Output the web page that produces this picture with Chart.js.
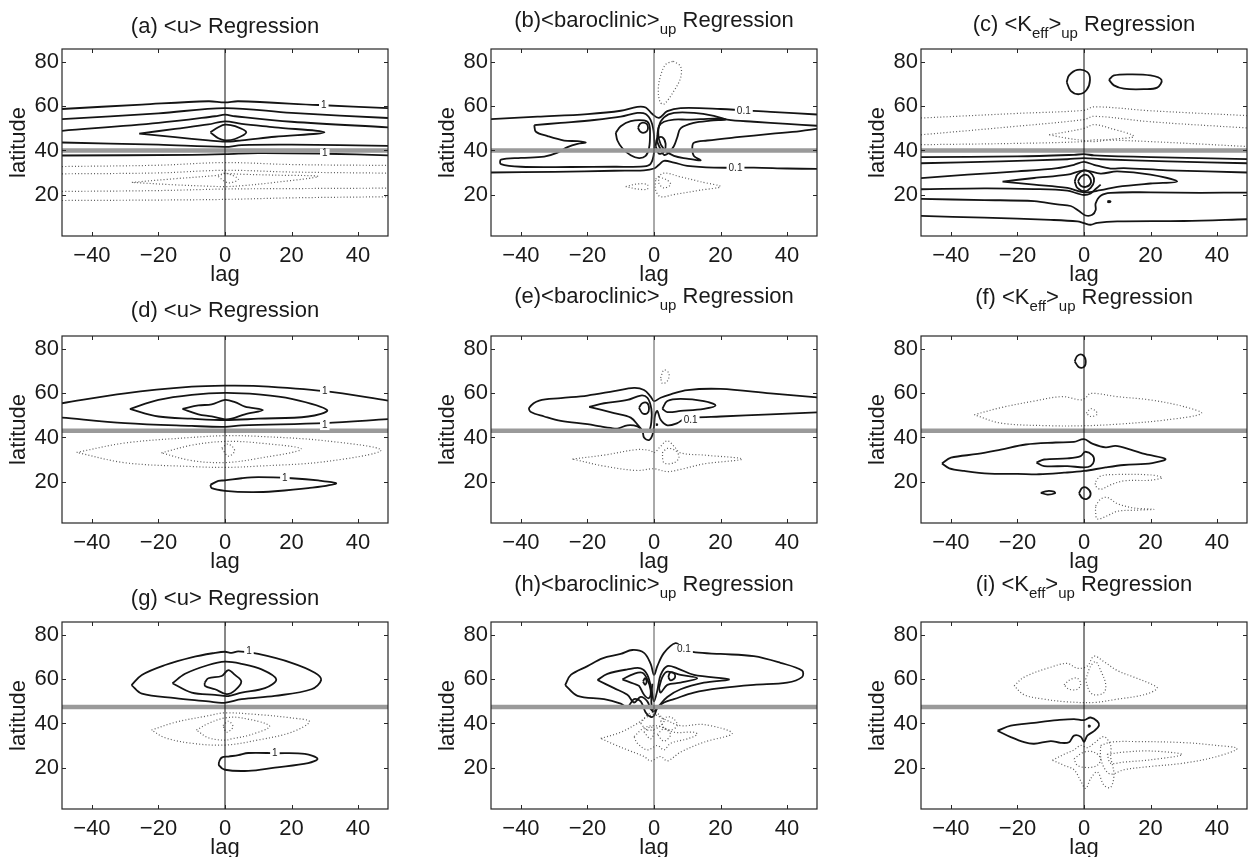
<!DOCTYPE html>
<html>
<head>
<meta charset="utf-8">
<script src="https://cdn.jsdelivr.net/npm/chart.js@4.4.1/dist/chart.umd.min.js"></script>
<style>
html, body { margin: 0; padding: 0; background: #fff; overflow: hidden; width: 1250px; height: 857px; }
canvas { position: absolute; }
</style>
</head>
<body>
<script>
// axes
const lagTicks = [-40, -20, 0, 20, 40];
const latTicks = [20, 40, 60, 80];
const lagRange = [-49, 49];
const latRange = [1.2, 86];
// reference latitude (grey line) for each panel
const refLat = [40, 40, 40, 43, 43, 43, 47.5, 47.5, 47.5];

// contours: each one a list of [lag, latitude]; Pos = solid, Neg = dotted
const aPos = [
  [[-49,58.8],[-25,60.8],[-5,62.3],[0,61.8],[4,62.3],[28,60.6],[49,59.2]],
  [[-49,54.2],[-20,56.8],[0,59.2],[20,57],[49,54.7]],
  [[-49,48.9],[-20,52.5],[-3,55.5],[0,56.2],[3,55.5],[20,53],[49,50.5]],
  [[-25.8,47.6],[-15,49.8],[-5,51.8],[0,53.2],[5,52],[15,50.5],[29.9,48.2],[15,46.2],[5,44.6],[0,44],[-5,44.6],[-15,46],[-25.8,47.6]],
  [[-4.4,48.2],[-2,50.5],[0,51.7],[3,51],[6.4,48.2],[3,45.2],[0,44.6],[-2,45.5],[-4.4,48.2]],
  [[-49,43.6],[-20,42.6],[0,41.6],[5,42.4],[20,42.6],[49,42.1]],
  [[-49,37.7],[-10,38],[0,38.3],[10,38.8],[30,38.5],[49,37.8]]
];
const aNeg = [
  [[-49,32.7],[-20,33.3],[0,34.5],[20,33.6],[49,33.2]],
  [[-49,29.4],[-20,29.8],[0,31],[20,30.2],[49,29.7]],
  [[-28,25.5],[-15,27.2],[-3,28.6],[0,29.5],[5,29.2],[15,28.8],[28,28.2],[15,25.5],[5,24],[0,23.6],[-5,23.8],[-15,24.4],[-28,25.5]],
  [[-2,28],[0,29.7],[4,27],[1,25.3],[-2,28]],
  [[-49,21.4],[-20,21.8],[0,22.5],[20,22.7],[49,22.9]],
  [[-49,17.3],[-20,17.5],[0,17.8],[20,18.5],[49,19]]
];
const aLabels = [[29.7, 60.6, '1'], [30, 38.5, '1']];

const bPos = [
  [[-49,54.2],[-35,55.3],[-20,56.5],[-10,58],[-5,59.8],[-2.5,59.5],[-0.5,56.5],[1.5,54.8],[4,57.8],[8,59.2],[20,58.8],[35,57.5],[49,56.3]],
  [[-36,51.5],[-28,52.5],[-18,53.8],[-10,55.3],[-5,57],[-2.5,56.5],[-0.8,53],[0,47],[0,39],[-1,34],[-3,32.8],[-12,32.6],[-25,32.5],[-40,32.6],[-46,33.8],[-46,35.8],[-40,36.6],[-33,37.2],[-29,39],[-26,41.5],[-23,43],[-20.5,43.6],[-23,44.2],[-27,44.5],[-32,46.5],[-35.5,48.5],[-36,51.5]],
  [[-49,30],[-30,30.3],[-12,30.8],[-3,31],[0,31.8],[1.5,33.5],[3,35.3],[6,34.5],[10,33],[18,32.2],[30,32.2],[40,31.8],[49,31.6]],
  [[-11.5,48],[-10,51],[-7,53.3],[-3,53.6],[-1.5,52],[-1.2,47],[-1.5,41],[-2.5,37.5],[-4.5,36.5],[-7,37.8],[-9.5,41],[-11,44.5],[-11.5,48]],
  [[-4.8,50.3],[-4.2,52],[-3.3,52.6],[-2.2,52],[-1.8,50.3],[-2.2,48.6],[-3.3,48],[-4.2,48.6],[-4.8,50.3]],
  [[49,51.2],[40,52],[30,53],[22,54],[18,55.7],[12,57],[6,57],[3,55],[1.5,51],[1.5,45],[3,40.5],[6,37.5],[10,36.3],[14,35.5],[12,37.5],[11.5,41],[12,43.5],[16,44.5],[25,46],[35,47.5],[44,48.8],[49,49.8]],
  [[1,47],[1.5,51],[3,53],[6,54],[10,54],[14,54.2],[20,54.5],[21.5,54],[17,53.5],[12,52.5],[8,50],[7,46],[6,42],[4.5,39],[3,38],[2,40.5],[1,44],[1,47]],
  [[0.5,42],[1,45.5],[2.5,46],[3.5,43],[3,39.5],[1.5,38.5],[0.5,42]]
];
const bNeg = [
  [[5.8,80.5],[8,78],[8,73],[6,67],[3,61],[1.8,62],[1.3,68],[2,74],[3.5,79],[5.8,80.5]],
  [[0.5,27],[3,29.7],[8,28],[14,25.8],[20,23.6],[14,22],[6,20],[2,19],[0.5,22],[0.5,27]],
  [[1.5,28],[4,26.5],[5,24.5],[3,23],[1.5,25],[1.5,28]],
  [[-8.5,23.6],[-5,24.8],[-2,24.5],[-2,22.5],[-5,22.5],[-8.5,23.6]]
];
const bLabels = [[27, 57.8, '0.1'], [24.5, 32, '0.1']];

const cPos = [
  [[-5.2,71],[-4.5,74],[-2,76.5],[1,75.5],[1.8,72],[0.8,67.5],[-1.5,65.5],[-4,67],[-5.2,71]],
  [[7.5,72],[9,74],[14,74.5],[20,74],[23.3,72],[22,68.5],[18,67.8],[12,68],[9,69.5],[7.5,72]],
  [[-49,37],[-20,37.3],[-3,38],[0,38.3],[3,37.8],[20,37],[49,36.1]],
  [[-49,34.2],[-25,35],[-5,36],[0,36.5],[5,36],[25,35],[49,34.2]],
  [[-49,27.4],[-35,29],[-20,30.5],[-8,32],[-3,33.5],[0,34.8],[3,33.5],[8,31.8],[12,32],[25,31],[49,30]],
  [[-24.5,25.9],[-15,27.5],[-5,29],[0,31],[5,29.5],[10,30.5],[20,29],[28,25.9],[20,25],[10,23.5],[5,22],[0,21],[-5,23],[-15,24.5],[-24.5,25.9]],
  [[-2.8,26],[-2,29],[0.3,31],[2.5,29],[3,26],[2,23],[0.3,21.5],[-2,23],[-2.8,26]],
  [[-1.8,26],[-1,28],[0.5,29],[1.8,27.5],[2,25],[0.5,23.5],[-1,24],[-1.8,26]],
  [[-49,22.4],[-30,22.8],[-15,22.5],[-5,21.8],[-2,20.5],[0,19.8],[2,20.5],[3.5,22.5],[5,24.5]],
  [[-49,18],[-30,17.5],[-15,17],[-8,15.5],[-4,14.8],[-1.5,12.5],[0.5,10.5],[2.5,10.8],[3.5,13],[3.5,16],[5,19.5],[8,20.8],[20,21],[35,20.8],[49,20.9]],
  [[-49,10.3],[-30,9.5],[-10,8.5],[-2,7.8],[0,7],[2,6.3],[4,7.2],[10,7.8],[30,8],[49,8.8]],
  [[7,16.8],[7.5,17.1],[8,16.8],[7.5,16.5],[7,16.8]]
];
const cNeg = [
  [[-49,54.7],[-20,56.8],[0,58.2],[3,59.8],[20,58],[49,55.8]],
  [[-49,47.1],[-20,51],[0,54],[3,55.5],[20,53],[49,50.2]],
  [[-10.5,47.1],[-5,48.5],[0,50],[3,51.7],[8,50],[15,46.4],[8,45],[3,44],[0,44.5],[-5,45.5],[-10.5,47.1]],
  [[-49,42.6],[-20,43.2],[0,44],[3,44.8],[20,44],[49,41.8]]
];
const cLabels = [];

const dPos = [
  [[-49,55.5],[-30,60],[-10,63],[0,63.5],[10,63.3],[30,61],[49,56.7]],
  [[-49,49],[-30,46.5],[-10,45.2],[0,44.8],[5,45.5],[30,46.5],[49,48.3]],
  [[-28.6,52.9],[-20,57],[-10,59.3],[0,60.2],[10,59.5],[20,57.5],[30.7,52.4],[25,49.5],[10,48.5],[0,47.9],[-10,48.5],[-20,49.5],[-28.6,52.9]],
  [[-12.8,52.9],[-8,54.5],[-4,55],[0,57],[3,56],[6,54],[11.4,52.4],[6,50.5],[2,48.5],[0,48.2],[-4,49.5],[-8,50.5],[-12.8,52.9]],
  [[-4.4,18.5],[-2,20.3],[0,20.5],[5,21.5],[10,22],[20,21.5],[28,20.5],[33.4,19.1],[25,17],[15,15.6],[8,15.2],[0,15.8],[-4,17],[-4.4,18.5]]
];
const dNeg = [
  [[-44.6,33.2],[-30,37.5],[-10,40],[0,40.8],[10,40.5],[30,38.5],[46.9,34.2],[30,29],[10,27],[0,26.4],[-10,26.8],[-30,28.5],[-44.6,33.2]],
  [[-19.1,33],[-10,36.5],[0,38.2],[10,37.5],[22.9,34.7],[10,30.5],[0,28.6],[-10,29.5],[-19.1,33]],
  [[-1,35.2],[1,37],[2.9,34],[1,31.5],[-1,35.2]]
];
const dLabels = [[30, 60.8, '1'], [30, 45.6, '1'], [18, 21.6, '1']];

const ePos = [
  [[49,58.2],[35,60],[20,62],[10,61.5],[5,59.5],[2,58],[0,56.5],[-1,58.5],[-3,61.5],[-6,62.5],[-12,61],[-20,59],[-28,57.8],[-34.5,56.7],[-37.5,53.5],[-37,51.5],[-33,49.5],[-28,47.5],[-20,46],[-16,45],[-13,44.3],[-11,44],[-8,45.5],[-5,45],[-3.5,43],[-3,40],[-1.5,38.8],[-0.5,41],[0,45],[0.3,50],[1,52],[2,48],[4,45.5],[7,46.5],[9,48.3],[12,49],[20,49.5],[35,50.5],[49,51.4]],
  [[-19.5,53.9],[-15,55.5],[-8,57],[-4,59],[-2,58],[-0.8,53],[-0.8,47],[-1.5,43],[-3,42.5],[-4.5,45],[-7,49],[-12,51],[-19.5,53.9]],
  [[2.5,53],[4,56.5],[8,57.5],[15,56.5],[18.5,54.5],[15,53],[8,52],[4,51.5],[2.5,53]],
  [[-4.5,53.5],[-3.5,55.5],[-2,55.5],[-1.5,53],[-2,51],[-3.5,51],[-4.5,53.5]],
  [[0.6,45.8],[0.8,46],[1,45.8],[0.8,45.6],[0.6,45.8]]
];
const eNeg = [
  [[2,67],[3,70.6],[4.5,69],[4,65.5],[2.5,64.5],[2,67]],
  [[-24.5,30.2],[-15,32],[-5,34.5],[-1,34],[0,33],[2,36],[4,38.5],[6,36],[8,33],[15,32],[26.5,30.2],[15,28],[8,25.5],[4,24.5],[0,25.8],[-5,25],[-15,27],[-24.5,30.2]],
  [[2.5,33],[4,35],[6.5,34],[7.5,31],[6,28.5],[3,28.5],[2.5,33]]
];
const eLabels = [[11, 47.8, '0.1']];

const fPos = [
  [[-2.8,74.5],[-2,77],[-0.5,77.5],[0.5,75],[0,72],[-1.5,71.8],[-2.8,74.5]],
  [[-42.7,28.2],[-40,30.8],[-32,32.5],[-25,34.5],[-17.5,36.8],[-8.5,37.7],[-3,38],[0,39.2],[2.5,37.2],[6.5,35.5],[9.5,36.2],[14,34.5],[18.5,32.4],[24.5,30.2],[20.5,28.4],[12,27.5],[6.5,26.4],[0,24.8],[-6,24],[-13.5,23.3],[-20,23.5],[-28.5,23.6],[-36,24.8],[-40.5,26],[-42.7,28.2]],
  [[-14.3,28.6],[-12,30],[-5,30.5],[-1,31.5],[0.3,33.5],[2.5,32],[3,29.4],[2,27],[0,26.4],[-5,27],[-12,27],[-14.3,28.6]],
  [[-13,14.9],[-11,15.7],[-9,15.4],[-8.7,14.7],[-11,14.1],[-13,14.9]],
  [[-1.5,14.7],[-0.5,17.2],[1,17],[2,14.5],[1,12.2],[-0.5,12.5],[-1.5,14.7]]
];
const fNeg = [
  [[-33,50.3],[-25,53.5],[-15,56.5],[-6.5,58.5],[-1,57],[0.5,58],[2,60],[10,58.5],[20,57],[30,54],[35.3,50.9],[25,48],[10,46],[0,45.3],[-10,45.3],[-25,46.5],[-33,50.3]],
  [[0.7,51],[2,53],[3.5,52],[4,50.5],[2,49.5],[0.7,51]],
  [[3.5,20],[5,22.5],[10,23.2],[20,23],[23.5,21.8],[20,20.6],[12,20.3],[8,18.5],[5,16.5],[3.5,18],[3.5,20]],
  [[3.5,9],[5,12],[7,12.8],[10,10],[15,8],[21,7.4],[15,7],[10,6.5],[7,4.5],[4,3],[3.5,6],[3.5,9]]
];
const fLabels = [];

const gPos = [
  [[-28.1,57.4],[-25,62],[-18,66.5],[-10,70],[-3,72],[0,72.5],[2,72],[4,72.7],[10,71.5],[20,67.5],[27,63],[28.9,59.7],[26,55.5],[15,52.5],[5,51],[1,49.7],[-1,49.3],[-5,50],[-15,51.5],[-25,53.5],[-28.1,57.4]],
  [[-15.8,58.2],[-12,62.5],[-5,66.5],[0,68],[5,67],[11,64.5],[15.4,60],[12,56],[5,54],[1,52.4],[-3,53],[-10,54],[-15.8,58.2]],
  [[-6.1,58.5],[-5,60.5],[-1,61.5],[1,64.2],[3,62],[4.9,59],[3,55],[0.5,53.3],[-3,55.5],[-6,57],[-6.1,58.5]],
  [[-1.8,22.6],[-1,24.5],[1,25],[4,25.6],[7,26.6],[15,26.5],[24,26.2],[27.8,24],[25,22],[15,20],[7,18.5],[0,19],[-1.8,21],[-1.8,22.6]]
];
const gNeg = [
  [[-22.1,37],[-15,40.5],[-5,43.5],[0,44.8],[10,44],[20,42.5],[25.4,40.8],[20,36],[10,32.5],[0,30.2],[-10,31],[-18,33.5],[-22.1,37]],
  [[-8.6,37],[-5,40],[0,42.5],[5,42.5],[13.4,38.8],[8,35],[2,33],[0,32.4],[-5,33.5],[-8.6,37]],
  [[-0.6,39],[1,41],[2.4,38.5],[0.5,36],[-0.6,39]]
];
const gLabels = [[7.2, 72.9, '1'], [15, 26.6, '1']];

const hPos = [
  [[-26.7,57.4],[-25,62],[-20,66],[-15.5,69.5],[-10,71.5],[-6.5,73.3],[-3,72],[-1,67],[0,62],[1,66],[3,72],[6.5,76.4],[9,73.5],[12.5,72.2],[20,71.5],[30,70.5],[38,67.5],[44.5,64],[44.5,61],[40,58.5],[30,57.5],[20,56],[12,54],[6,51],[3,49.5],[1,47],[0,43.5],[-1,43],[-2.5,45],[-4,50],[-6,51],[-8,47.5],[-10,49],[-15,51],[-23,52.5],[-26.7,57.4]],
  [[-17,59.7],[-14,62.5],[-8,64.5],[-4,65],[-2,62],[-0.7,55],[0,50],[1,55],[2,62],[4,66],[7,65],[12,62],[22.5,60],[15,58.5],[8,55.5],[4,52],[1.5,48],[0,45.5],[-1,46.5],[-2,50],[-4,52],[-6,49.5],[-8,53],[-12,56],[-17,59.7]],
  [[-9.5,60],[-6,62.5],[-3.5,63],[-2,60],[-1,55],[-1.5,51.5],[-3,53],[-4.5,57],[-6,58],[-9.5,60]],
  [[1.5,56],[2.5,61],[4,63.5],[8,62],[13,60.5],[8,58.5],[4,57.5],[2,54],[1.5,56]],
  [[4.3,61],[4.8,63],[6,62.8],[6.3,60.8],[5,59.5],[4.3,61]],
  [[-3.3,59],[-2.7,60.5],[-2.2,59],[-2.7,57.5],[-3.3,59]],
  [[-0.5,58],[-0.8,52],[-0.7,48],[-0.3,46]]
];
const hNeg = [
  [[-16,33.2],[-10,36],[-5,40],[-2,43],[0,44],[3,42],[8,39],[15,39.5],[23.5,35.5],[15,31.5],[8,27],[4,23],[2,25],[-1,23],[-3,25],[-8,28],[-12,30.5],[-16,33.2]],
  [[-6,34],[-3,38],[0,39],[3,38],[6,36],[12,36],[13,35],[10,33],[5,31],[3,28],[1,30],[-2,28],[-5,31],[-6,34]],
  [[-3,36],[-1,38.5],[0,36],[-1,33],[-3,36]],
  [[1,35],[3,37.5],[5,35],[3,32],[1,35]],
  [[-4,40],[-2,44],[0,45],[1.5,44],[3,41],[1,38],[-2,37],[-4,40]],
  [[2,41],[4,43],[6,42],[7,39],[5,37],[3,38],[2,41]]
];
const hLabels = [[9, 73.6, '0.1']];

const iPos = [
  [[-26,36.7],[-22,39],[-15,40.3],[-8,41.5],[-3,42],[0,41.5],[2,42.7],[4,41],[4.5,39],[3,36.5],[1,34.5],[0,31.7],[-1,34],[-3,34.5],[-4.5,31.5],[-7,31.2],[-10,32],[-15,30.8],[-18,31.5],[-22,33.8],[-26,36.7]],
  [[1.3,38.8],[1.5,39.1],[1.8,38.8],[1.5,38.5],[1.3,38.8]]
];
const iNeg = [
  [[-21,57],[-18,61],[-10,65.5],[-5,67.2],[-2,65],[1,66],[3,70.5],[6,68],[10,64],[15,61],[20,58],[22,55.9],[18,53],[10,51],[3,49.5],[-5,49.8],[-12,51],[-18,53],[-21,57]],
  [[-6,57.5],[-4,60],[-2,60.5],[-1,58],[-2,55.5],[-4.5,55.5],[-6,57.5]],
  [[0.5,60],[2,66],[3.5,68],[5,64],[6.5,58],[6,54],[3,53],[1.5,55],[0.5,60]],
  [[5,30],[8,31.5],[15,31.8],[30,31.3],[40,30],[46,28.6],[40,25],[30,22],[20,20.5],[12,19],[8,17],[6,20],[5,25],[5,30]],
  [[7,26],[12,27],[20,27.5],[29.5,25.9],[20,23.5],[12,22.5],[8,22],[7,26]],
  [[-9.5,23.3],[-6,26],[-3,28],[-1,30],[1,29],[3,31],[6,34],[8,30],[8,25],[9,17],[8,11],[6,12],[4,18],[2,15],[0.5,10.5],[-1,14],[-3,19],[-6,21],[-9.5,23.3]],
  [[-3,24],[0,27],[3,27],[5,24],[4,21],[1,20],[-2,21],[-3,24]]
];
const iLabels = [];

// titles: [text, isSubscript]
const titleA = [['(a) <u> Regression', 0]];
const titleB = [['(b)<baroclinic>', 0], ['up', 1], [' Regression', 0]];
const titleC = [['(c) <K', 0], ['eff', 1], ['>', 0], ['up', 1], [' Regression', 0]];
const titleD = [['(d) <u> Regression', 0]];
const titleE = [['(e)<baroclinic>', 0], ['up', 1], [' Regression', 0]];
const titleF = [['(f) <K', 0], ['eff', 1], ['>', 0], ['up', 1], [' Regression', 0]];
const titleG = [['(g) <u> Regression', 0]];
const titleH = [['(h)<baroclinic>', 0], ['up', 1], [' Regression', 0]];
const titleI = [['(i) <K', 0], ['eff', 1], ['>', 0], ['up', 1], [' Regression', 0]];

const FONT = '"Liberation Sans", Arial, Helvetica, sans-serif';
const colLeft = [0, 429, 859];
const rowTop = [0, 287, 573];
const W = 395, H = 290;

const panels = [
  { pos: aPos, neg: aNeg, labels: aLabels, title: titleA, base: 33 },
  { pos: bPos, neg: bNeg, labels: bLabels, title: titleB, base: 27 },
  { pos: cPos, neg: cNeg, labels: cLabels, title: titleC, base: 31 },
  { pos: dPos, neg: dNeg, labels: dLabels, title: titleD, base: 30 },
  { pos: ePos, neg: eNeg, labels: eLabels, title: titleE, base: 16 },
  { pos: fPos, neg: fNeg, labels: fLabels, title: titleF, base: 17 },
  { pos: gPos, neg: gNeg, labels: gLabels, title: titleG, base: 32 },
  { pos: hPos, neg: hNeg, labels: hLabels, title: titleH, base: 18 },
  { pos: iPos, neg: iNeg, labels: iLabels, title: titleI, base: 18 }
];

// box, inward ticks, title and contour labels
const framePlugin = {
  id: 'frame',
  afterDatasetsDraw(chart, args, opts) {
    const { ctx, scales: { x, y } } = chart;
    ctx.save();
    ctx.font = '10px ' + FONT;
    ctx.textAlign = 'center';
    ctx.textBaseline = 'middle';
    opts.labels.forEach(([lx, ly, t]) => {
      const px = x.getPixelForValue(lx), py = y.getPixelForValue(ly);
      const w = ctx.measureText(t).width + 4;
      ctx.fillStyle = '#fff';
      ctx.fillRect(px - w / 2, py - 5, w, 10);
      ctx.fillStyle = '#222';
      ctx.fillText(t, px, py);
    });
    ctx.restore();
  },
  afterDraw(chart, args, opts) {
    const { ctx, chartArea: a, scales: { x, y } } = chart;
    ctx.save();
    ctx.strokeStyle = '#262626';
    ctx.lineWidth = 1.2;
    ctx.strokeRect(a.left, a.top, a.right - a.left, a.bottom - a.top);
    ctx.lineWidth = 1;
    ctx.beginPath();
    lagTicks.forEach(v => {
      const px = Math.round(x.getPixelForValue(v)) + 0.5;
      ctx.moveTo(px, a.bottom); ctx.lineTo(px, a.bottom - 4);
      ctx.moveTo(px, a.top); ctx.lineTo(px, a.top + 4);
    });
    latTicks.forEach(v => {
      const py = Math.round(y.getPixelForValue(v)) + 0.5;
      ctx.moveTo(a.left, py); ctx.lineTo(a.left + 4, py);
      ctx.moveTo(a.right, py); ctx.lineTo(a.right - 4, py);
    });
    ctx.stroke();

    // title with subscripts
    const big = '22px ' + FONT, small = '15px ' + FONT;
    let tw = 0;
    opts.title.forEach(([t, s]) => { ctx.font = s ? small : big; tw += ctx.measureText(t).width; });
    let tx = (a.left + a.right) / 2 - tw / 2;
    ctx.fillStyle = '#1a1a1a';
    ctx.textAlign = 'left';
    ctx.textBaseline = 'alphabetic';
    opts.title.forEach(([t, s]) => {
      ctx.font = s ? small : big;
      ctx.fillText(t, tx, s ? opts.base + 7 : opts.base);
      tx += ctx.measureText(t).width;
    });
    ctx.restore();
  }
};

function contour(pts, solid) {
  return {
    data: pts.map(([x, y]) => ({ x, y })),
    showLine: true,
    pointRadius: 0,
    borderColor: solid ? '#141414' : '#5a5a5a',
    borderWidth: solid ? 1.8 : 1.2,
    borderDash: solid ? [] : [1, 2.2],
    tension: 0.35,
    fill: false,
    order: 2
  };
}

const vColor = ['#111', '#555', '#111'];

panels.forEach((p, i) => {
  const col = i % 3, row = Math.floor(i / 3);
  const cv = document.createElement('canvas');
  cv.width = W; cv.height = H;
  cv.style.left = colLeft[col] + 'px';
  cv.style.top = rowTop[row] + 'px';
  cv.style.width = W + 'px'; cv.style.height = H + 'px';
  document.body.appendChild(cv);

  const datasets = [];
  p.pos.forEach(c => datasets.push(contour(c, true)));
  p.neg.forEach(c => datasets.push(contour(c, false)));
  datasets.push({
    data: [{ x: lagRange[0], y: refLat[i] }, { x: lagRange[1], y: refLat[i] }],
    showLine: true, pointRadius: 0, borderColor: '#9a9a9a', borderWidth: 4.5, order: 1
  });
  datasets.push({
    data: [{ x: 0, y: latRange[0] }, { x: 0, y: latRange[1] }],
    showLine: true, pointRadius: 0, borderColor: vColor[col], borderWidth: 1, order: 0
  });

  new Chart(cv, {
    type: 'scatter',
    data: { datasets },
    options: {
      responsive: false,
      animation: false,
      events: [],
      layout: { padding: { left: 0, top: 49, right: W - 62 - 326, bottom: H - 49 - 187 - 50 } },
      elements: { line: { capBezierPoints: false } },
      plugins: {
        legend: { display: false },
        tooltip: { enabled: false },
        frame: { title: p.title, base: p.base, labels: p.labels }
      },
      scales: {
        x: {
          type: 'linear', min: lagRange[0], max: lagRange[1],
          afterBuildTicks: s => { s.ticks = lagTicks.map(v => ({ value: v })); },
          afterFit: s => { s.height = 50; },
          grid: { display: false, drawTicks: false },
          border: { display: false },
          ticks: {
            autoSkip: false, maxRotation: 0, padding: 7, color: '#1a1a1a',
            font: { family: FONT, size: 22 },
            callback: v => v < 0 ? '\u2212' + Math.abs(v) : String(v)
          },
          title: { display: true, text: 'lag', color: '#1a1a1a', font: { family: FONT, size: 22, lineHeight: 1 }, padding: { top: 0, bottom: 0 } }
        },
        y: {
          type: 'linear', min: latRange[0], max: latRange[1],
          afterBuildTicks: s => { s.ticks = latTicks.map(v => ({ value: v })); },
          afterFit: s => { s.width = 62; },
          grid: { display: false, drawTicks: false },
          border: { display: false },
          ticks: { autoSkip: false, padding: 3, color: '#1a1a1a', font: { family: FONT, size: 22 } },
          title: { display: true, text: 'latitude', color: '#1a1a1a', font: { family: FONT, size: 22, lineHeight: 1 }, padding: { top: 8, bottom: 0 } }
        }
      }
    },
    plugins: [framePlugin]
  });
});
</script>
</body>
</html>
